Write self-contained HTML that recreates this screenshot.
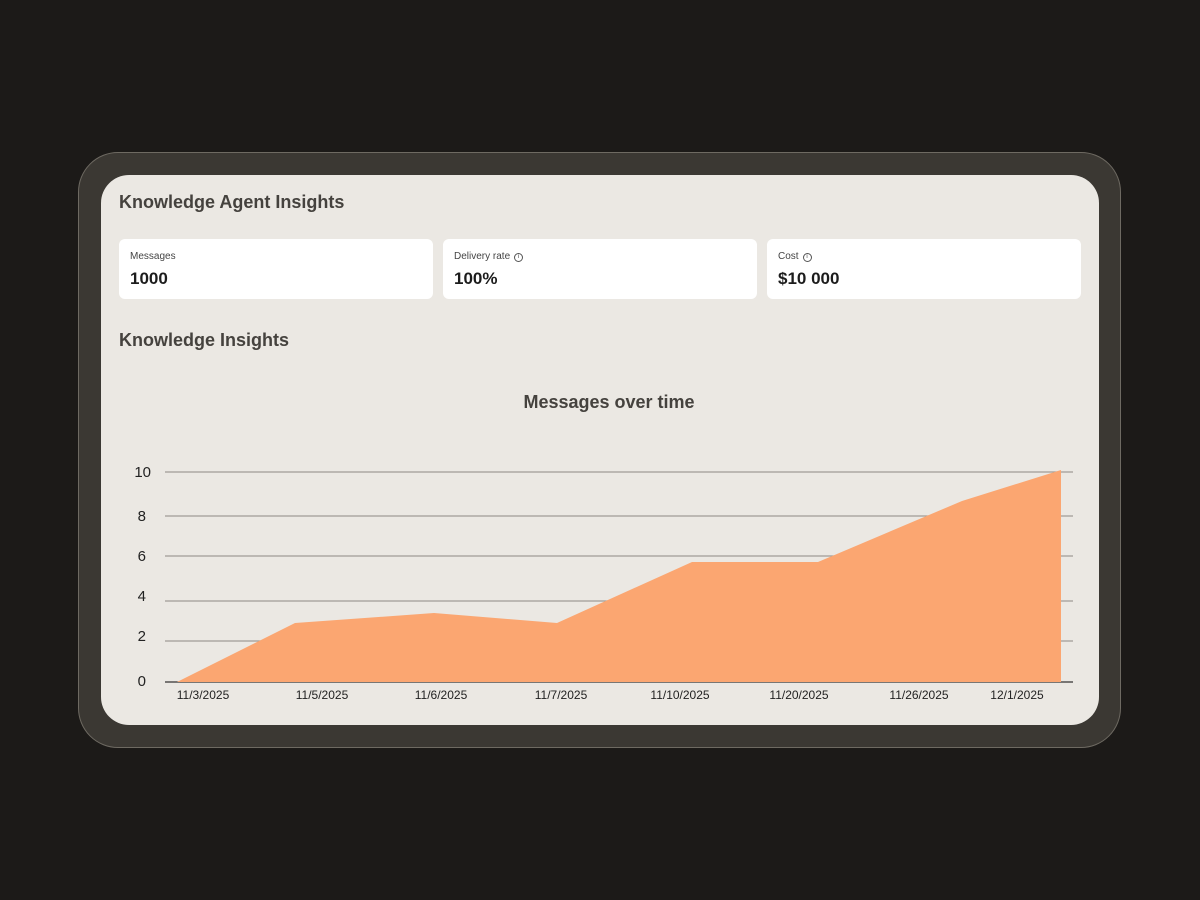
<!DOCTYPE html>
<html><head><meta charset="utf-8"><style>
body{margin:0;width:1200px;height:900px;background:#1c1a18;position:relative;overflow:hidden;font-family:"Liberation Sans",sans-serif}
.outer{position:absolute;left:78px;top:152px;width:1041px;height:594px;background:#3b3833;border:1px solid #6e6a62;border-radius:40px}
.inner{position:absolute;left:101px;top:175px;width:998px;height:550px;background:#ebe8e3;border-radius:28px}
.h{position:absolute;left:119px;font-weight:bold;font-size:18px;color:#45423e}
.card{position:absolute;top:239px;width:314px;height:60px;background:#fff;border-radius:6px}
.card .l{position:absolute;left:11px;top:12px;font-size:10px;color:#444}
.card .v{position:absolute;left:11px;top:30px;font-size:17px;font-weight:bold;color:#1c1c1c}
.i{display:inline-block;width:7px;height:7px;border:1px solid #555;border-radius:50%;font-size:6px;line-height:7px;text-align:center;margin-left:4px;vertical-align:1px}
</style></head><body>
<div class="outer"></div>
<div class="inner"></div>
<div class="h" style="top:192px">Knowledge Agent Insights</div>
<div class="card" style="left:119px"><div class="l">Messages</div><div class="v">1000</div></div>
<div class="card" style="left:443px"><div class="l">Delivery rate<span class="i">i</span></div><div class="v">100%</div></div>
<div class="card" style="left:767px"><div class="l">Cost<span class="i">i</span></div><div class="v">$10 000</div></div>
<div class="h" style="top:330px">Knowledge Insights</div>
<svg style="position:absolute;left:0;top:0" width="1200" height="900">
<text x="609" y="408" text-anchor="middle" font-family="Liberation Sans" font-weight="bold" font-size="18" fill="#45423e">Messages over time</text>
<g stroke="#a09c96" stroke-width="1.3">
<line x1="165" y1="472" x2="1073" y2="472"/><line x1="165" y1="516" x2="1073" y2="516"/><line x1="165" y1="556" x2="1073" y2="556"/><line x1="165" y1="601" x2="1073" y2="601"/><line x1="165" y1="641" x2="1073" y2="641"/>
</g>
<line x1="165" y1="682" x2="1073" y2="682" stroke="#333" stroke-width="1.2"/>
<polygon points="177,682 295,623 434,613 557,623 692,562 818,562 962,501 1061,470 1061,682" fill="#fba671"/>
<g font-family="Liberation Sans" font-size="15" fill="#222" text-anchor="end">
<text x="151" y="477">10</text><text x="146" y="521">8</text><text x="146" y="561">6</text><text x="146" y="601">4</text><text x="146" y="641">2</text><text x="146" y="686">0</text>
</g>
<g font-family="Liberation Sans" font-size="12" fill="#222" text-anchor="middle">
<text x="203" y="699">11/3/2025</text><text x="322" y="699">11/5/2025</text><text x="441" y="699">11/6/2025</text><text x="561" y="699">11/7/2025</text><text x="680" y="699">11/10/2025</text><text x="799" y="699">11/20/2025</text><text x="919" y="699">11/26/2025</text><text x="1017" y="699">12/1/2025</text>
</g>
</svg>
</body></html>
